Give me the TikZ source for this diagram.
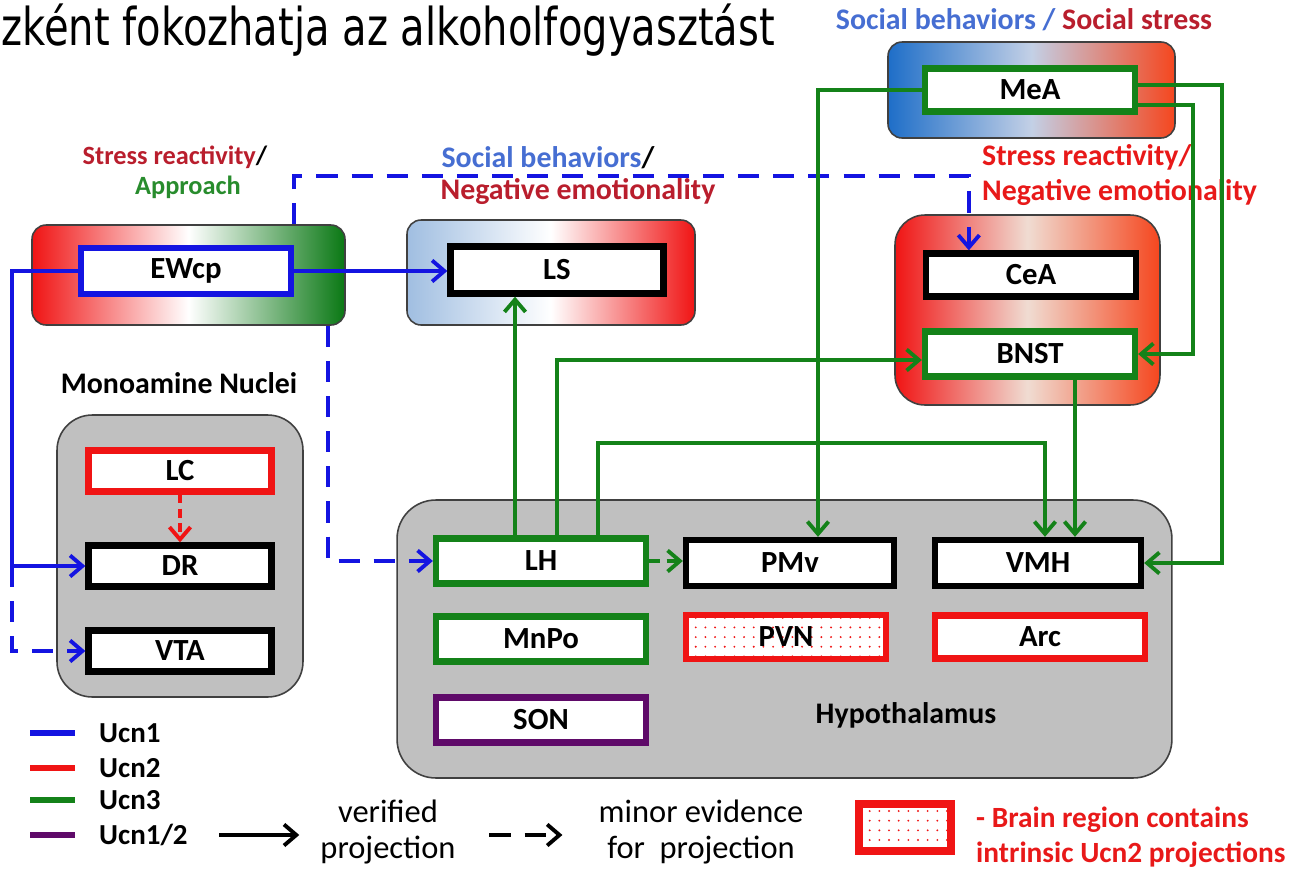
\documentclass[tikz,border=0pt]{standalone}
\usepackage{fontspec}
\setmainfont{Carlito}
\newfontfamily\titlefont{DejaVu Sans}
\usetikzlibrary{arrows.meta,calc,patterns.meta}
\definecolor{ucnblue}{RGB}{20,20,225}
\definecolor{ucnred}{RGB}{240,20,20}
\definecolor{ucngreen}{RGB}{20,130,25}
\definecolor{ucnpurple}{RGB}{95,10,105}
\definecolor{nucleigray}{RGB}{192,192,192}
\definecolor{tagblue}{RGB}{70,110,210}
\definecolor{tagdarkred}{RGB}{185,30,45}
\definecolor{tagred}{RGB}{232,25,25}
\definecolor{taggreen}{RGB}{40,140,45}
\definecolor{meablue}{RGB}{30,110,200}
\definecolor{meapale}{RGB}{195,208,230}
\definecolor{meaorange}{RGB}{245,70,30}
\definecolor{amygpale}{RGB}{240,220,210}
\definecolor{lsblue}{RGB}{160,190,225}
\definecolor{ewgreen}{RGB}{10,120,20}
\begin{document}
\begin{tikzpicture}[x=0.02cm, y=-0.02cm,
  container/.style={draw=black!75, line width=0.9pt, inner sep=0pt},
  nucleus/.style={draw, line width=3.6pt, fill=white, inner sep=0pt,
    minimum width=4.2cm, minimum height=0.9cm, font=\bfseries\fontsize{17.5}{19}\selectfont},
  mononucleus/.style={nucleus, minimum width=3.66cm, minimum height=0.82cm},
  intrinsic/.style={preaction={fill=white}, pattern={Dots[radius=0.6pt,distance=5.5pt]}, pattern color=ucnred},
  proj/.style={line width=2.2pt, -{Straight Barb[length=7pt,width=12pt]}},
  minor/.style={proj, dash pattern=on 12pt off 8pt},
  tag/.style={font=\bfseries\fontsize{17}{19}\selectfont},
  small tag/.style={font=\bfseries\fontsize{15}{17}\selectfont},
  key/.style={font=\fontsize{18.5}{20}\selectfont, align=center},
  swatch/.style={line width=3.4pt}]
\useasboundingbox (0,0) rectangle (1289,869);

\node[anchor=base west, inner sep=0pt] (title) at (1,45)
  {\scalebox{1}[1.3]{\titlefont\fontsize{22.8}{26}\selectfont zként fokozhatja az alkoholfogyasztást}};

% containers
\node[container, rounded corners=8pt, left color=meablue, right color=meaorange, middle color=meapale,
  minimum width=5.74cm, minimum height=1.92cm] (MeA-bg) at (1031.5,90) {};
\node[container, rounded corners=17pt, left color=ucnred, right color=meaorange, middle color=amygpale,
  minimum width=5.3cm, minimum height=3.8cm] (amyg-bg) at (1027.5,310) {};
\node[container, rounded corners=8pt, left color=ucnred, right color=ewgreen, middle color=white,
  minimum width=6.26cm, minimum height=2cm] (EWcp-bg) at (188.5,275) {};
\node[container, rounded corners=8pt, left color=lsblue, right color=ucnred, middle color=white,
  minimum width=5.76cm, minimum height=2.1cm] (LS-bg) at (551,272.5) {};
\node[container, fill=nucleigray, rounded corners=20pt,
  minimum width=4.92cm, minimum height=5.64cm] (mono-bg) at (180,556) {};
\node[container, fill=nucleigray, rounded corners=22pt,
  minimum width=15.5cm, minimum height=5.56cm] (hypo-bg) at (784.5,639) {};

% tags
\node[tag] (mea-tag) at (1024,20) {\color{tagblue}Social behaviors /\ \color{tagdarkred}Social stress};
\node[tag, tagred, anchor=west] (amyg-tag1) at (976,157) {Stress reactivity/};
\node[tag, tagred, anchor=west] (amyg-tag2) at (976,193) {Negative emotionality};
\node[small tag] (ew-tag1) at (175,157) {\color{tagdarkred}Stress reactivity\color{black}/};
\node[small tag, taggreen] (ew-tag2) at (188,187) {Approach};
\node[tag] (ls-tag1) at (548,158) {\color{tagblue}Social behaviors\color{black}/};
\node[tag, tagdarkred] (ls-tag2) at (578,192) {Negative emotionality};
\node[tag] (mono-tag) at (179,383) {Monoamine Nuclei};
\node[tag] (hypo-tag) at (906,715) {Hypothalamus};

% nuclei
\node[nucleus, draw=ucngreen, minimum height=0.86cm] (MeA) at (1030,90) {MeA};
\node[nucleus, minimum height=0.86cm] (CeA) at (1031,275) {CeA};
\node[nucleus, draw=ucngreen] (BNST) at (1030,354) {BNST};
\node[nucleus, draw=ucnblue, minimum height=0.92cm] (EWcp) at (186,271) {EWcp};
\node[nucleus, minimum width=4.26cm, minimum height=0.94cm] (LS) at (557,270) {LS};
\node[mononucleus, draw=ucnred] (LC) at (180,471) {LC};
\node[mononucleus] (DR) at (180,566) {DR};
\node[mononucleus] (VTA) at (180,651) {VTA};
\node[nucleus, draw=ucngreen] (LH) at (541,561) {LH};
\node[nucleus, draw=ucngreen] (MnPo) at (541,639) {MnPo};
\node[nucleus, draw=ucnpurple] (SON) at (541,720) {SON};
\node[nucleus, minimum width=4.16cm, minimum height=0.92cm] (PMv) at (790,563) {PMv};
\node[nucleus, draw=ucnred, intrinsic, minimum width=4cm, minimum height=0.88cm] (PVN) at (786,637) {PVN};
\node[nucleus, minimum width=4.12cm, minimum height=0.92cm] (VMH) at (1038,563) {VMH};
\node[nucleus, draw=ucnred, minimum height=0.86cm] (Arc) at (1040,637) {Arc};

% Ucn1
\draw[proj, ucnblue] (EWcp.east) -- (EWcp.east -| LS.west);
\draw[minor, ucnblue] (EWcp.east |- EWcp-bg.north) -- ++(0,-48) -| ($(CeA.north west)+(46,0)$);
\draw[proj, ucnblue] (EWcp.west) -- ++(-66,0) coordinate (ew-left) |- (DR.west);
\draw[minor, ucnblue] (ew-left |- DR.west) |- (VTA.west);
\draw[minor, ucnblue] ($(EWcp-bg.south east)+(-18,0)$) |- (LH.west);
% Ucn2
\draw[proj, ucnred, dash pattern=on 5pt off 3pt] (LC.south) -- (DR.north);
% Ucn3
\draw[proj, ucngreen] ($(LH.north)+(-26,0)$) coordinate (lh-ls) -- (lh-ls |- LS.south);
\draw[proj, ucngreen] ($(LH.north)+(16,0)$) |- ($(BNST.west)+(0,6)$);
\draw[proj, ucngreen] ($(LH.north)+(57,0)$) -- ++(0,-92) -| ($(VMH.north)+(7,0)$);
\draw[proj, ucngreen, dash pattern=on 6pt off 4pt] (LH.east) -- (LH.east -| PMv.west);
\draw[proj, ucngreen] ($(BNST.south)+(45,0)$) coordinate (bnst-vmh) -- (bnst-vmh |- VMH.north);
\draw[proj, ucngreen] (MeA.west) -| ($(PMv.north)+(28,0)$);
\draw[proj, ucngreen] ($(MeA.east)+(0,-5)$) -- ++(84,0) |- (VMH.east);
\draw[proj, ucngreen] ($(MeA.east)+(0,15)$) -- ++(55,0) |- (BNST.east);

% legend
\node[tag, anchor=west, font=\bfseries\fontsize{16.5}{18}\selectfont] (ucn1) at (93,733) {Ucn1};
\node[tag, anchor=west, font=\bfseries\fontsize{16.5}{18}\selectfont] (ucn2) at (93,768) {Ucn2};
\node[tag, anchor=west, font=\bfseries\fontsize{16.5}{18}\selectfont] (ucn3) at (93,800) {Ucn3};
\node[tag, anchor=west, font=\bfseries\fontsize{16.5}{18}\selectfont] (ucn12) at (93,835) {Ucn1/2};
\draw[swatch, ucnblue] ($(ucn1.west)+(-63,0)$) -- ++(45,0);
\draw[swatch, ucnred] ($(ucn2.west)+(-63,0)$) -- ++(45,0);
\draw[swatch, ucngreen] ($(ucn3.west)+(-63,0)$) -- ++(45,0);
\draw[swatch, ucnpurple] ($(ucn12.west)+(-63,0)$) -- ++(45,0);
\node[key] (verified) at (388,832) {verified\\projection};
\draw[proj, black] ($(verified.west)+(-95,3)$) -- ($(verified.west)+(-15,3)$);
\node[key] (minor-key) at (701,832) {minor evidence\\for\ \ projection};
\draw[minor, black] ($(minor-key.west)+(-103,3)$) -- ($(minor-key.west)+(-30,3)$);
\node[nucleus, draw=ucnred, intrinsic, line width=4.2pt, minimum width=1.84cm, minimum height=0.94cm] (intrinsic-key) at (905,827.5) {};
\node[tag, tagred, anchor=west, align=left, font=\bfseries\fontsize{16.7}{20}\selectfont] (intrinsic-tag) at (970,837) {- Brain region contains\\intrinsic Ucn2 projections};
\end{tikzpicture}
\end{document}
